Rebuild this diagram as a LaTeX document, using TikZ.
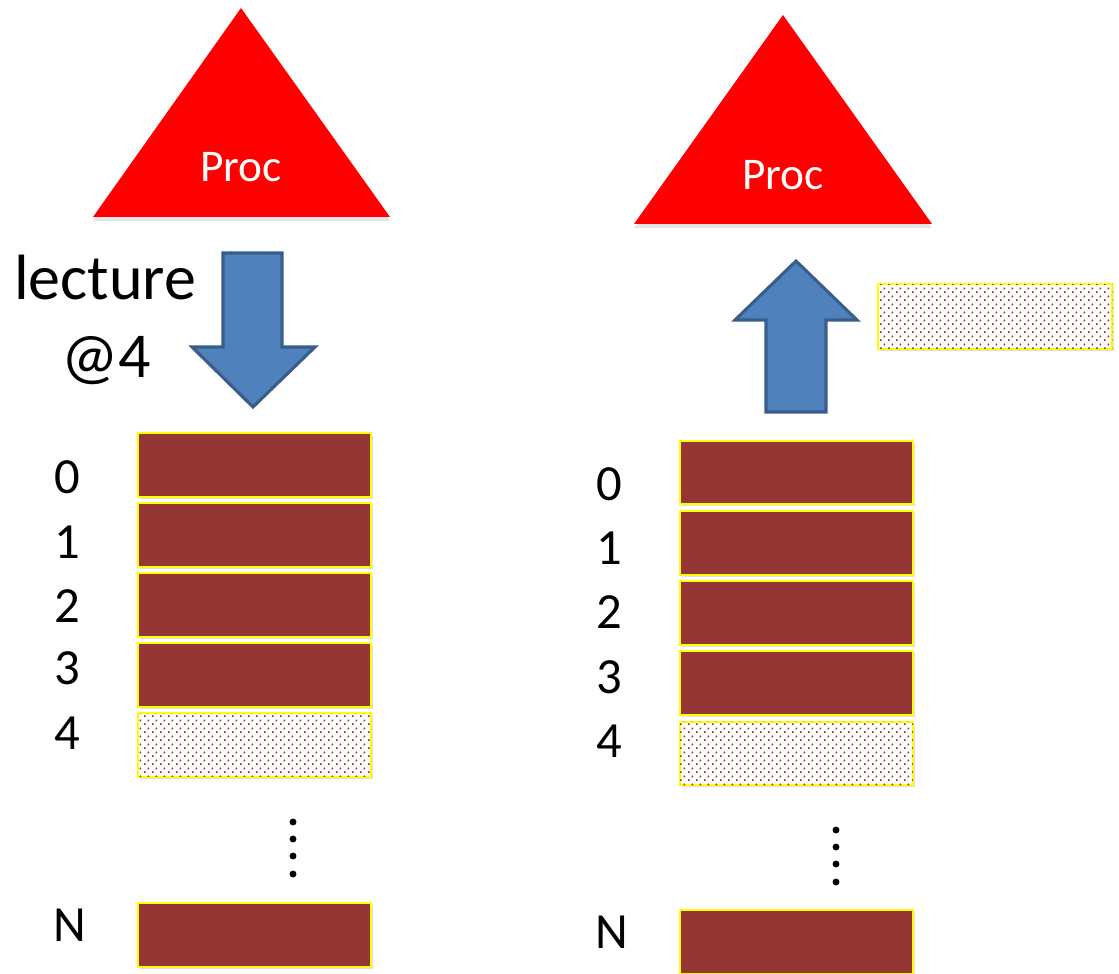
\documentclass[tikz,border=0pt]{standalone}
\usepackage{fontspec}
\setmainfont{Carlito}
\usetikzlibrary{shadows,patterns.meta}
\definecolor{cellred}{HTML}{943634}
\definecolor{dotred}{HTML}{952525}
\definecolor{arrowblue}{HTML}{4F81BD}
\definecolor{arrowedge}{HTML}{385D8A}
\definecolor{cellyellow}{HTML}{FFFF00}
\tikzdeclarepattern{
  name=sdots,
  type=uncolored,
  bounding box={(0pt,0pt) and (6pt,6pt)},
  tile size={(6pt,6pt)},
  code={
    \fill (0pt,0pt) rectangle (1.4pt,1.4pt);
    \fill (3pt,3pt) rectangle (4.4pt,4.4pt);
  }
}
\tikzset{
  cellbase/.style={draw=cellyellow, line width=1.5pt, minimum width=175pt, minimum height=47.5pt,
    inner sep=0pt, drop shadow={shadow xshift=1.5pt, shadow yshift=-1.5pt, opacity=0.25, fill=gray}},
  fullcell/.style={cellbase, fill=cellred},
  emptycell/.style={cellbase, fill=white, postaction={pattern=sdots, pattern color=dotred}},
  idx/.style={font=\fontsize{38}{40}\selectfont, inner sep=0pt},
  proc/.style={fill=red, drop shadow={shadow xshift=0pt, shadow yshift=-3pt, opacity=0.2, fill=gray}},
  proctext/.style={text=white, font=\fontsize{34}{40}\selectfont, inner sep=0pt},
  blockarrow/.style={fill=arrowblue, draw=arrowedge, line width=2.3pt, line join=miter},
  bigtext/.style={font=\fontsize{48}{56}\selectfont, inner sep=0pt, anchor=base},
  vdot/.style={fill=black, radius=2.6pt}
}
\begin{document}
\begin{tikzpicture}[x=0.75pt, y=-0.75pt]
\useasboundingbox (0,0) rectangle (1119,973);

% ---------- left side ----------
\path[proc] (241,8) -- (390,217) -- (93,217) -- cycle;
\node[proctext] (procL) at (241,167) {Proc};

\path[blockarrow] (223,253) -- (282,253) -- (282,347) -- (315,347) -- (253,407)
  -- (192,347) -- (223,347) -- cycle;

\node[bigtext] (lect) at (105,300) {lecture};
\node[bigtext] (at4) at (106,377) {@4};

\node[fullcell] (L0) at (254.5,465) {};
\node[fullcell] (L1) at (254.5,535) {};
\node[fullcell] (L2) at (254.5,605) {};
\node[fullcell] (L3) at (254.5,675) {};
\node[emptycell] (L4) at (254.5,745) {};
\node[fullcell] (LN) at (254.5,935) {};

\node[idx] (l0) at (67,477) {0};
\node[idx] (l1) at (67,542) {1};
\node[idx] (l2) at (67,606) {2};
\node[idx] (l3) at (67,668) {3};
\node[idx] (l4) at (67,733) {4};
\node[idx] (lN) at (70,925) {N};

\fill[vdot] (293,822) circle;
\fill[vdot] (293,839) circle;
\fill[vdot] (293,856) circle;
\fill[vdot] (293,874) circle;

% ---------- right side ----------
\path[proc] (783,15) -- (932,224) -- (634,224) -- cycle;
\node[proctext] (procR) at (783,175) {Proc};

\path[blockarrow] (766,412) -- (826,412) -- (826,320) -- (857,320) -- (796,261)
  -- (735,320) -- (766,320) -- cycle;

\node[emptycell, minimum width=176pt, minimum height=48pt] (F) at (995,316.5) {};

\node[fullcell] (R0) at (796.5,472.5) {};
\node[fullcell] (R1) at (796.5,543) {};
\node[fullcell] (R2) at (796.5,613) {};
\node[fullcell] (R3) at (796.5,683) {};
\node[emptycell] (R4) at (796.5,753.5) {};
\node[fullcell] (RN) at (796.5,942) {};

\node[idx] (r0) at (609,484) {0};
\node[idx] (r1) at (609,548) {1};
\node[idx] (r2) at (609,612) {2};
\node[idx] (r3) at (609,677) {3};
\node[idx] (r4) at (609,741) {4};
\node[idx] (rN) at (612,932) {N};

\fill[vdot] (836,830) circle;
\fill[vdot] (836,847) circle;
\fill[vdot] (836,864) circle;
\fill[vdot] (836,882) circle;
\end{tikzpicture}
\end{document}
